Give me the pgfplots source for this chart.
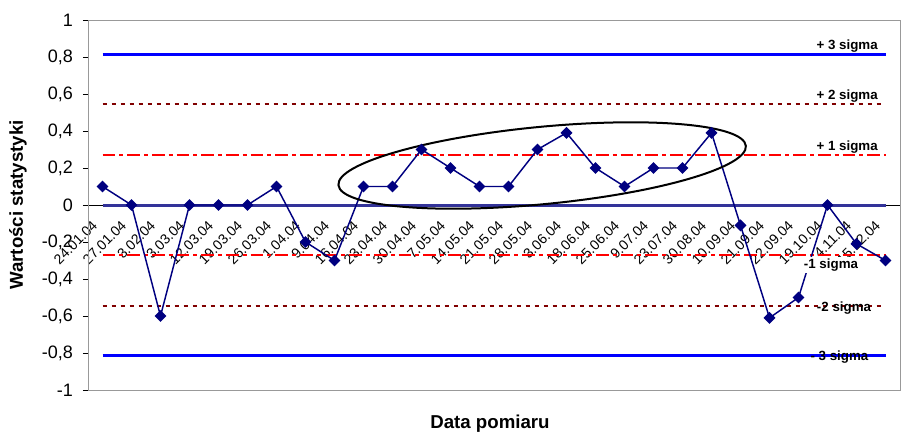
\documentclass[border=0pt]{standalone}
\usepackage{fontspec}
\setmainfont{Liberation Sans}
\usepackage{pgfplots}
\pgfplotsset{compat=1.18}
\definecolor{navy}{HTML}{000080}
\definecolor{cline}{HTML}{333399}
\definecolor{sig3}{HTML}{0000FF}
\definecolor{sig2}{HTML}{800000}
\definecolor{sig1}{HTML}{FF0000}
\begin{document}
\begin{tikzpicture}
\begin{axis}[
  scale only axis,
  width=609pt, height=277.5pt,
  xmin=-0.5, xmax=27.5, ymin=-1, ymax=1,
  axis x line=middle, axis y line=left,
  axis line style={-, black, line width=0.6pt},
  xtick={0,...,27},
  xticklabels={24.01.04,27.01.04,3.02.04,3.03.04,12.03.04,19.03.04,26.03.04,1.04.04,9.04.04,16.04.04,23.04.04,30.04.04,7.05.04,14.05.04,21.05.04,28.05.04,3.06.04,18.06.04,25.06.04,9.07.04,23.07.04,30.08.04,10.09.04,21.09.04,22.09.04,19.10.04,4.11.04,15.12.04},
  x tick label style={xshift=-5pt, yshift=-9pt, rotate=45, anchor=east, font=\fontsize{10.5}{12}\selectfont, inner sep=1pt},
  major x tick style={draw=none},
  extra x ticks={-0.5,0.5,...,27.5},
  extra x tick labels={},
  extra x tick style={major tick length=3.75pt, tick align=outside, tick style={black, draw=black, line width=0.6pt}},
  ytick={-1,-0.8,...,1},
  yticklabels={-1,{-0,8},{-0,6},{-0,4},{-0,2},0,{0,2},{0,4},{0,6},{0,8},1},
  y tick label style={font=\fontsize{13.5}{16}\selectfont, xshift=-4pt},
  ytick style={black, line width=0.6pt},
  major tick length=3.75pt,
  tick align=outside,
  every axis y label/.style={at={(rel axis cs:0,0.5)}, rotate=90, anchor=center, yshift=52.5pt, font=\bfseries\fontsize{14}{16}\selectfont},
  every axis x label/.style={at={(rel axis cs:0.5,0)}, anchor=center, yshift=-25pt, xshift=-3pt, font=\bfseries\fontsize{14}{16}\selectfont},
  ylabel={Wartości statystyki},
  xlabel={Data pomiaru},
  clip=false,
]
\coordinate (sw) at (rel axis cs:0,0);
\coordinate (ne) at (rel axis cs:1,1);
\draw[gray!80, line width=0.6pt] (rel axis cs:0,0) rectangle (rel axis cs:1,1);
% control limits
\addplot[sig3, line width=2.25pt] coordinates {(0,0.816) (27,0.816)};
\addplot[sig3, line width=2.25pt] coordinates {(0,-0.816) (27,-0.816)};
\addplot[sig2, line width=1.5pt, dash pattern=on 3pt off 3.75pt] coordinates {(0,0.544) (27,0.544)};
\addplot[sig2, line width=1.5pt, dash pattern=on 3pt off 3.75pt] coordinates {(0,-0.544) (27,-0.544)};
\addplot[sig1, line width=1.5pt, dash pattern=on 9.5pt off 3pt on 3pt off 3pt] coordinates {(0,0.272) (27,0.272)};
\addplot[sig1, line width=1.5pt, dash pattern=on 9.5pt off 3pt on 3pt off 3pt] coordinates {(0,-0.272) (27,-0.272)};
\addplot[cline, line width=2.25pt] coordinates {(0,0) (27,0)};
% data
\addplot[navy, line width=1.1pt, mark=square*, mark size=2.6pt, mark options={rotate=45, fill=navy}] coordinates {
(0,0.1) (1,0) (2,-0.6) (3,0) (4,0) (5,0) (6,0.1) (7,-0.2) (8,-0.3) (9,0.1)
(10,0.1) (11,0.3) (12,0.2) (13,0.1) (14,0.1) (15,0.3) (16,0.39) (17,0.2) (18,0.1) (19,0.2)
(20,0.2) (21,0.39) (22,-0.11) (23,-0.61) (24,-0.5) (25,0) (26,-0.21) (27,-0.3)};
% annotation ellipse
\draw[black, line width=1.5pt, rotate around={5.5:(axis cs:15.16,0.2135)}] (axis cs:15.16,0.2135) ellipse [x radius=153.5pt, y radius=29pt];
% labels
\node[anchor=base east, inner sep=0pt, font=\bfseries\fontsize{10}{12}\selectfont] at ([yshift=3.5pt]axis cs:26.74,0.816) {+ 3 sigma};
\node[anchor=base east, inner sep=0pt, font=\bfseries\fontsize{10}{12}\selectfont] at ([yshift=3.5pt]axis cs:26.74,0.544) {+ 2 sigma};
\node[anchor=base east, inner sep=0pt, font=\bfseries\fontsize{10}{12}\selectfont] at ([yshift=3.5pt]axis cs:26.74,0.272) {+ 1 sigma};
\node[fill=white, inner sep=1.5pt, font=\bfseries\fontsize{10}{12}\selectfont] at (axis cs:25.12,-0.324) {-1 sigma};
\node[inner sep=1pt, font=\bfseries\fontsize{10}{12}\selectfont] at (axis cs:25.57,-0.557) {-2 sigma};
\node[inner sep=1pt, font=\bfseries\fontsize{10}{12}\selectfont] at (axis cs:25.41,-0.822) {- 3 sigma};
\end{axis}
\pgfresetboundingbox
\path[use as bounding box] ([shift={(-66pt,-36.75pt)}]sw) rectangle ([shift={(3pt,15pt)}]ne);
\end{tikzpicture}
\end{document}
